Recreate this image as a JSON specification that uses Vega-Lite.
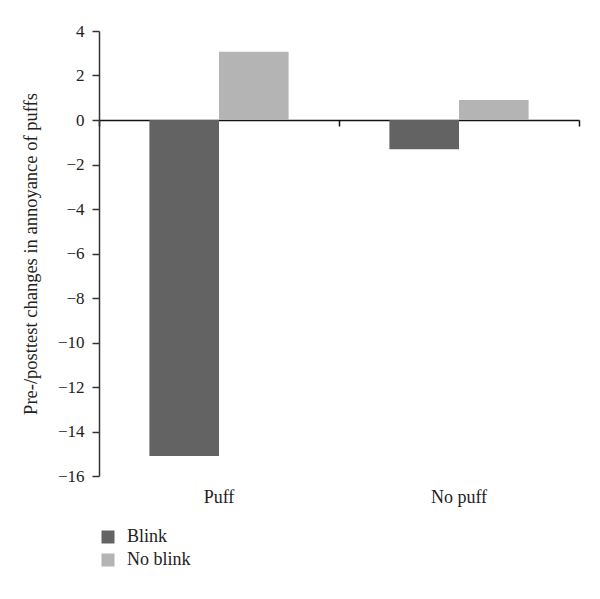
{
  "$schema": "https://vega.github.io/schema/vega-lite/v6.json",
  "autosize": "none",
  "width": 480,
  "height": 445,
  "padding": {"left": 99, "top": 31, "right": 21, "bottom": 123},
  "background": "white",
  "config": {
    "view": {"stroke": null},
    "font": "Liberation Serif",
    "axis": {"labelFont": "Liberation Serif", "titleFont": "Liberation Serif", "labelColor": "#222", "titleColor": "#222", "grid": false}
  },
  "data": {
    "values": [
      {"condition": "Puff", "group": "Blink", "value": -15.1},
      {"condition": "Puff", "group": "No blink", "value": 3.07},
      {"condition": "No puff", "group": "Blink", "value": -1.32},
      {"condition": "No puff", "group": "No blink", "value": 0.9}
    ]
  },
  "resolve": {"axis": {"x": "independent"}, "scale": {"x": "independent"}},
  "layer": [
    {
      "mark": {"type": "bar"},
      "encoding": {
        "x": {
          "field": "condition", "type": "nominal", "sort": ["Puff", "No puff"],
          "scale": {"paddingInner": 0.42, "paddingOuter": 0.21},
          "axis": {"orient": "bottom", "domain": false, "ticks": false, "title": null, "labelAngle": 0, "labelFontSize": 18, "labelPadding": 12}
        },
        "xOffset": {"field": "group", "type": "nominal", "sort": ["Blink", "No blink"], "scale": {"paddingInner": 0, "paddingOuter": 0}},
        "y": {
          "field": "value", "type": "quantitative",
          "scale": {"domain": [-16, 4], "nice": false, "zero": false},
          "axis": {"values": [-16, -14, -12, -10, -8, -6, -4, -2, 0, 2, 4], "title": "Pre-/posttest changes in annoyance of puffs", "titleFontSize": 18.5, "titleFontWeight": "normal", "titlePadding": 17, "labelFontSize": 17, "labelPadding": 8, "tickSize": 7, "tickColor": "#333", "tickWidth": 1.5, "domainColor": "#333", "domainWidth": 1.5}
        },
        "color": {
          "field": "group", "type": "nominal",
          "scale": {"domain": ["Blink", "No blink"], "range": ["#636363", "#b4b4b4"]},
          "legend": {"orient": "none", "legendX": 0, "legendY": 497, "title": null, "symbolType": "square", "symbolSize": 169, "symbolStrokeWidth": 0, "labelFont": "Liberation Serif", "labelFontSize": 18, "labelColor": "#222", "labelOffset": 10, "rowPadding": 5, "padding": 0}
        }
      }
    },
    {
      "mark": {"type": "text", "text": ""},
      "encoding": {
        "x": {
          "field": "condition", "type": "nominal", "sort": ["Puff", "No puff"],
          "scale": {"paddingInner": 0, "paddingOuter": 0},
          "axis": {"orient": "bottom", "offset": -356, "labels": false, "title": null, "domain": true, "domainColor": "#111", "domainWidth": 1.5, "ticks": true, "tickBand": "extent", "tickSize": 6, "tickColor": "#111", "tickWidth": 1.5}
        }
      }
    }
  ]
}
